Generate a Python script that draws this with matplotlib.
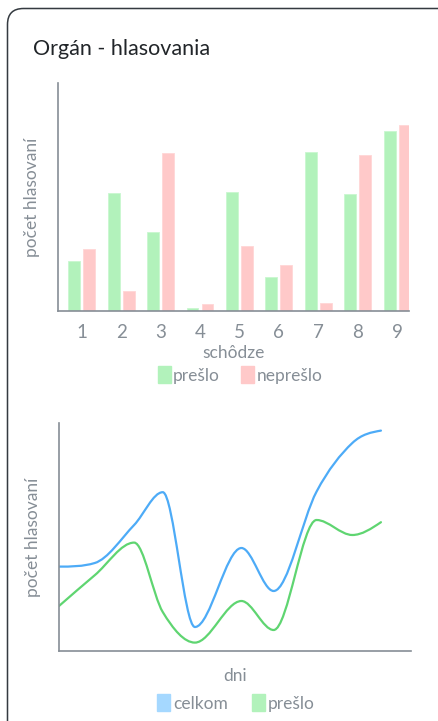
import matplotlib
matplotlib.use("Agg")
import matplotlib.pyplot as plt
import numpy as np
from matplotlib.patches import Patch, FancyBboxPatch, PathPatch
from matplotlib.path import Path
from matplotlib.transforms import IdentityTransform

# hlasovania po schodziach
schodze = [1, 2, 3, 4, 5, 6, 7, 8, 9]
preslo = [25, 59, 39.5, 1.3, 59.5, 17, 79.5, 58.5, 90]
nepreslo = [31, 10, 79, 3.7, 32.5, 23, 4, 78, 93]

# hlasovania po dnoch
dni = [0, 10, 21, 29, 38, 51, 60, 72, 82, 90]
celkom_dni = [42.2, 44, 63, 79.4, 12, 51.5, 30, 79.7, 104, 110.2]
preslo_dni = [22.5, 37.9, 54.2, 19.5, 4.2, 25, 10.5, 65.5, 58, 64.4]

GREEN = "#b2f2bb"
PINK = "#ffc9c9"
BLUE_LINE = "#4dabf7"
GREEN_LINE = "#5fd571"
BLUE_LEG = "#a5d8ff"
GRAY = "#868e96"
FONT = "Lato"

plt.rcParams["font.family"] = FONT


def smooth_path(xs, ys):
    # hladka kubicka krivka, v extremoch vodorovna, bez prestrelenia
    x = np.asarray(xs, float)
    y = np.asarray(ys, float)
    n = len(x)
    h = np.diff(x)
    s = np.diff(y) / h
    t = np.zeros(n)
    for i in range(1, n - 1):
        if np.sign(s[i - 1]) != np.sign(s[i]):
            continue
        ti = (y[i + 1] - y[i - 1]) / (x[i + 1] - x[i - 1])
        lim = 3 * min(abs(s[i - 1]), abs(s[i]))
        t[i] = np.sign(ti) * min(abs(ti), lim)
    t[0] = (3 * s[0] - t[1]) / 2
    t[-1] = (3 * s[-1] - t[-2]) / 2
    verts = [(x[0], y[0])]
    codes = [Path.MOVETO]
    for i in range(n - 1):
        d = h[i] / 3
        verts += [(x[i] + d, y[i] + d * t[i]),
                  (x[i + 1] - d, y[i + 1] - d * t[i + 1]),
                  (x[i + 1], y[i + 1])]
        codes += [Path.CURVE4] * 3
    return Path(verts, codes)


def style_axes(ax):
    for s in ["top", "right"]:
        ax.spines[s].set_visible(False)
    for s in ["left", "bottom"]:
        ax.spines[s].set_color(GRAY)
        ax.spines[s].set_linewidth(1.2)
    ax.tick_params(length=0, colors=GRAY, labelsize=13.5)
    ax.set_yticks([])
    ax.set_facecolor("none")


W, H = 438, 721
fig = plt.figure(figsize=(W / 100, H / 100), dpi=100)

# ramik karty
card = FancyBboxPatch((7.5, -30), 450, 721 - 8.5 + 30,
                      boxstyle="round,pad=0,rounding_size=16",
                      transform=IdentityTransform(), facecolor="white",
                      edgecolor="#343a40", linewidth=1.1, zorder=-10)
fig.patches.append(card)

fig.text(33 / W, 1 - 49 / H, "Orgán - hlasovania", fontsize=15.5,
         color="#212529", va="center", ha="left")

# stlpcovy graf
ax1 = fig.add_axes([58 / W, 1 - 311 / H, 351 / W, 228 / H])
style_axes(ax1)
x = np.array(schodze)
ax1.bar(x - 0.19, preslo, width=0.3, color=GREEN, edgecolor="#c9f7d0", linewidth=0.6)
ax1.bar(x + 0.19, nepreslo, width=0.3, color=PINK, edgecolor="#ffd6d6", linewidth=0.6)
ax1.set_xlim(0.4, 9.3)
ax1.set_ylim(0, 114)
ax1.set_xticks(schodze)
ax1.tick_params(axis="x", pad=9)
ax1.set_xlabel("schôdze", color=GRAY, fontsize=12.5, labelpad=3)
ax1.set_ylabel("počet hlasovaní", color=GRAY, fontsize=12.5, labelpad=13)

fig.legend(handles=[Patch(color=GREEN, label="prešlo"),
                    Patch(color=PINK, label="neprešlo")],
           loc="center", bbox_to_anchor=(240 / W, 1 - 375 / H), ncol=2,
           frameon=False, fontsize=12.5, labelcolor=GRAY, handlelength=0.75,
           handleheight=1.1, handletextpad=0.15, columnspacing=1.2)

# ciarovy graf
ax2 = fig.add_axes([59 / W, 1 - 651 / H, 352 / W, 228 / H])
style_axes(ax2)
ax2.set_xticks([])
ax2.set_xlim(0, 98.4)
ax2.set_ylim(0, 114)
ax2.add_patch(PathPatch(smooth_path(dni, celkom_dni), fill=False,
                        edgecolor=BLUE_LINE, linewidth=1.6, capstyle="round"))
ax2.add_patch(PathPatch(smooth_path(dni, preslo_dni), fill=False,
                        edgecolor=GREEN_LINE, linewidth=1.6, capstyle="round"))
ax2.set_xlabel("dni", color=GRAY, fontsize=12.5, labelpad=12)
ax2.set_ylabel("počet hlasovaní", color=GRAY, fontsize=12.5, labelpad=13)

fig.legend(handles=[Patch(color=BLUE_LEG, label="celkom"),
                    Patch(color=GREEN, label="prešlo")],
           loc="center", bbox_to_anchor=(236 / W, 1 - 703 / H), ncol=2,
           frameon=False, fontsize=12.5, labelcolor=GRAY, handlelength=0.75,
           handleheight=1.1, handletextpad=0.15, columnspacing=1.4)

fig.savefig("out.png", dpi=100)
